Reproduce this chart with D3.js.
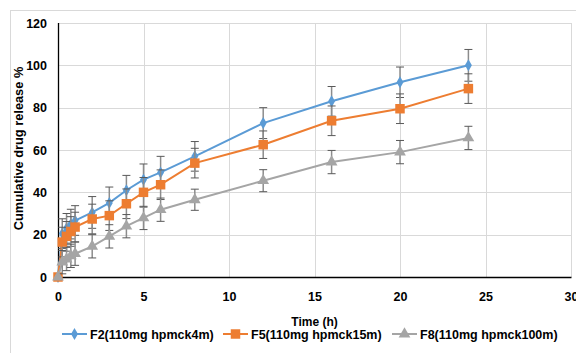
<!DOCTYPE html>
<html>
<head>
<meta charset="utf-8">
<script src="https://cdn.jsdelivr.net/npm/d3@7"></script>
<style>
  body { margin: 0; background: #fff; }
  text { font-family: 'Liberation Sans', Arial, sans-serif; font-weight: bold; fill: #000; }
</style>
</head>
<body>
<div id="vis"></div>
<script>
// data
var times = [0, 0.25, 0.5, 0.75, 1, 2, 3, 4, 5, 6, 8, 12, 16, 20, 24];
var f2 = [0, 20.5, 23, 25, 26.7, 30.5, 35, 41, 46, 49.4, 57, 72.7, 83, 92, 100];
var f2Err = [0, 7, 7, 7, 7, 7.5, 7.5, 7, 7.4, 7.6, 7, 7.3, 7, 7.2, 7.5];
var f5 = [0, 16.5, 19.2, 21.5, 23.6, 27.4, 29, 34.6, 40, 43.6, 53.8, 62.5, 73.8, 79.5, 89];
var f5Err = [0, 7, 7, 7, 7, 7, 7, 7, 7, 7, 7, 6.5, 7, 7, 7];
var f8 = [0, 7, 8.5, 10, 11, 14.5, 19.2, 24, 27.9, 31.8, 36.5, 45.5, 54.3, 59, 65.7];
var f8Err = [0, 5.5, 5.5, 5.5, 5.5, 5.5, 5.5, 5.5, 5.5, 5.5, 5, 5.2, 5.5, 5.5, 5.5];
var seriesNames = ['F2(110mg hpmck4m)', 'F5(110mg hpmck15m)', 'F8(110mg hpmck100m)'];
var seriesColors = ['#5b9bd5', '#ed7d31', '#a5a5a5'];
var xTicks = [0, 5, 10, 15, 20, 25, 30];
var yTicks = [0, 20, 40, 60, 80, 100, 120];

var width = 576,
	height = 353;

var margin = { left: 58, top: 23, right: 5, bottom: 76 };
var drawWidth = 571 - margin.left,
	drawHeight = 277 - margin.top;

var svg = d3.select('#vis').append('svg')
	.attr('width', width)
	.attr('height', height);

// chart frame
svg.append('rect')
	.attr('x', 10.5).attr('y', 10.5)
	.attr('width', 620).attr('height', 400)
	.attr('fill', '#fff')
	.attr('stroke', '#d9d9d9');

var g = svg.append('g')
	.attr('transform', 'translate(' + margin.left + ',' + margin.top + ')');

var x = d3.scaleLinear().domain([0, 30]).range([0, drawWidth]);
var y = d3.scaleLinear().domain([0, 120]).range([drawHeight, 0]);

// grid
g.append('g').selectAll('line')
	.data(yTicks.slice(1)).enter().append('line')
	.attr('x1', 0).attr('x2', drawWidth)
	.attr('y1', function(d) { return Math.round(y(d)) + 0.5; })
	.attr('y2', function(d) { return Math.round(y(d)) + 0.5; })
	.attr('stroke', '#d9d9d9');
g.append('g').selectAll('line')
	.data(xTicks.slice(1)).enter().append('line')
	.attr('y1', 0).attr('y2', drawHeight)
	.attr('x1', function(d) { return Math.round(x(d)) + 0.5; })
	.attr('x2', function(d) { return Math.round(x(d)) + 0.5; })
	.attr('stroke', '#d9d9d9');

// axes
var xAxis = g.append('g')
	.attr('transform', 'translate(0,' + drawHeight + ')')
	.call(d3.axisBottom(x).tickValues(xTicks).tickSize(0).tickPadding(15));
var yAxis = g.append('g')
	.call(d3.axisLeft(y).tickValues(yTicks).tickSize(0).tickPadding(11));
[xAxis, yAxis].forEach(function(a) {
	a.select('.domain').attr('stroke', '#000').attr('stroke-width', 1.3);
	a.selectAll('text')
		.attr('font-family', "'Liberation Sans', Arial, sans-serif")
		.attr('font-weight', 'bold')
		.attr('font-size', 12.5)
		.attr('fill', '#000');
});
yAxis.select('.domain').attr('d', 'M0.5,0V' + drawHeight);

// series
var allSeries = [
	{ vals: f2, err: f2Err, shape: 'diamond' },
	{ vals: f5, err: f5Err, shape: 'square' },
	{ vals: f8, err: f8Err, shape: 'triangle' }
];

var symbols = {
	diamond: d3.symbol().type(d3.symbolDiamond).size(42),
	square: d3.symbol().type(d3.symbolSquare).size(90),
	triangle: d3.symbol().type(d3.symbolTriangle).size(60)
};

var line = d3.line()
	.x(function(d) { return x(d[0]); })
	.y(function(d) { return y(d[1]); });

allSeries.forEach(function(s, si) {
	var pts = times.map(function(t, i) { return [t, s.vals[i], s.err[i]]; });
	var sg = g.append('g');

	sg.append('path')
		.datum(pts)
		.attr('d', line)
		.attr('fill', 'none')
		.attr('stroke', seriesColors[si])
		.attr('stroke-width', 2);

	var eb = sg.append('g').selectAll('g')
		.data(pts.filter(function(d) { return d[2] > 0; }))
		.enter().append('g');
	eb.append('line')
		.attr('x1', function(d) { return x(d[0]); })
		.attr('x2', function(d) { return x(d[0]); })
		.attr('y1', function(d) { return y(d[1] - d[2]); })
		.attr('y2', function(d) { return y(d[1] + d[2]); })
		.attr('stroke', '#8c8c8c')
		.attr('stroke-width', 1.5);
	[-1, 1].forEach(function(sign) {
		eb.append('line')
			.attr('x1', function(d) { return x(d[0]) - 4; })
			.attr('x2', function(d) { return x(d[0]) + 4; })
			.attr('y1', function(d) { return y(d[1] + sign * d[2]); })
			.attr('y2', function(d) { return y(d[1] + sign * d[2]); })
			.attr('stroke', '#595959')
			.attr('stroke-width', 1);
	});

	sg.append('g').selectAll('path')
		.data(pts).enter().append('path')
		.attr('transform', function(d) { return 'translate(' + x(d[0]) + ',' + y(d[1]) + ')'; })
		.attr('d', symbols[s.shape])
		.attr('fill', seriesColors[si]);
});

// axis titles
svg.append('text')
	.attr('x', margin.left + drawWidth / 2)
	.attr('y', 326)
	.attr('text-anchor', 'middle')
	.attr('font-size', 12)
	.text('Time (h)');

svg.append('text')
	.attr('transform', 'translate(23,' + 148.5 + ') rotate(-90)')
	.attr('text-anchor', 'middle')
	.attr('font-size', 12.8)
	.text('Cumulative drug release %');

// legend
var legendX = [62, 223, 392];
var legend = svg.append('g').selectAll('g')
	.data(seriesNames).enter().append('g')
	.attr('transform', function(d, i) { return 'translate(' + legendX[i] + ',334)'; });
legend.append('line')
	.attr('x1', 0).attr('x2', 25)
	.attr('stroke', function(d, i) { return seriesColors[i]; })
	.attr('stroke-width', 2);
legend.append('path')
	.attr('transform', 'translate(12.5,0)')
	.attr('d', function(d, i) { return symbols[allSeries[i].shape](); })
	.attr('fill', function(d, i) { return seriesColors[i]; });
legend.append('text')
	.attr('x', 28)
	.attr('y', 4.5)
	.attr('font-size', 12.5)
	.text(function(d) { return d; });
</script>
</body>
</html>
